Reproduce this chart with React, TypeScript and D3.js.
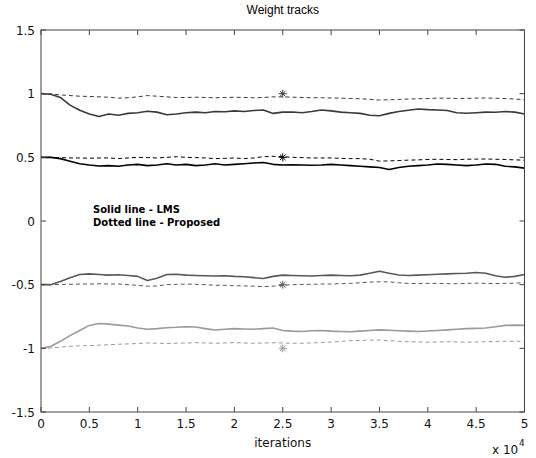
import React from "react";
import * as d3 from "d3";

const iterations = [0,0.1,0.2,0.3,0.4,0.5,0.6,0.7,0.8,0.9,1.0,1.1,1.2,1.3,1.4,1.5,1.6,1.7,1.8,1.9,2.0,2.1,2.2,2.3,2.4,2.5,2.6,2.7,2.8,2.9,3.0,3.1,3.2,3.3,3.4,3.5,3.6,3.7,3.8,3.9,4.0,4.1,4.2,4.3,4.4,4.5,4.6,4.7,4.8,4.9,5.0];

const lms1 = [1.0,0.995,0.97,0.91,0.87,0.84,0.82,0.84,0.83,0.845,0.85,0.862,0.855,0.835,0.84,0.85,0.855,0.85,0.86,0.858,0.865,0.86,0.868,0.872,0.845,0.855,0.856,0.85,0.86,0.872,0.865,0.855,0.85,0.845,0.83,0.827,0.845,0.86,0.87,0.88,0.875,0.872,0.868,0.85,0.846,0.85,0.855,0.854,0.86,0.855,0.84];
const prop1 = [1.0,0.998,0.99,0.985,0.98,0.978,0.975,0.972,0.965,0.968,0.975,0.985,0.98,0.975,0.97,0.97,0.972,0.97,0.968,0.97,0.972,0.97,0.968,0.97,0.975,0.975,0.972,0.97,0.968,0.968,0.966,0.965,0.962,0.96,0.955,0.95,0.952,0.955,0.958,0.96,0.962,0.965,0.964,0.962,0.963,0.965,0.966,0.964,0.962,0.958,0.952];
const lms2 = [0.5,0.5,0.49,0.47,0.45,0.44,0.432,0.435,0.43,0.44,0.445,0.435,0.44,0.45,0.44,0.445,0.435,0.44,0.45,0.44,0.445,0.45,0.455,0.46,0.445,0.44,0.442,0.44,0.438,0.44,0.445,0.44,0.435,0.43,0.425,0.42,0.405,0.42,0.43,0.435,0.44,0.448,0.445,0.44,0.435,0.44,0.448,0.445,0.43,0.425,0.415];
const prop2 = [0.5,0.5,0.498,0.495,0.495,0.493,0.495,0.495,0.49,0.495,0.5,0.498,0.495,0.5,0.505,0.5,0.498,0.495,0.49,0.492,0.495,0.49,0.495,0.505,0.508,0.505,0.5,0.498,0.495,0.495,0.495,0.492,0.49,0.49,0.485,0.47,0.472,0.475,0.478,0.48,0.483,0.485,0.483,0.482,0.485,0.486,0.487,0.485,0.483,0.48,0.478];
const lms3 = [-0.5,-0.5,-0.475,-0.445,-0.42,-0.415,-0.42,-0.425,-0.422,-0.428,-0.435,-0.468,-0.45,-0.42,-0.418,-0.425,-0.428,-0.43,-0.432,-0.43,-0.435,-0.438,-0.445,-0.452,-0.435,-0.425,-0.428,-0.43,-0.432,-0.428,-0.425,-0.428,-0.43,-0.425,-0.41,-0.395,-0.41,-0.424,-0.428,-0.425,-0.422,-0.418,-0.415,-0.412,-0.41,-0.405,-0.41,-0.43,-0.442,-0.435,-0.42];
const prop3 = [-0.5,-0.5,-0.498,-0.497,-0.495,-0.495,-0.493,-0.495,-0.495,-0.5,-0.505,-0.512,-0.51,-0.5,-0.498,-0.495,-0.497,-0.5,-0.505,-0.505,-0.508,-0.51,-0.512,-0.515,-0.512,-0.505,-0.5,-0.498,-0.497,-0.495,-0.495,-0.492,-0.49,-0.485,-0.48,-0.477,-0.478,-0.485,-0.49,-0.492,-0.49,-0.49,-0.492,-0.493,-0.49,-0.488,-0.49,-0.492,-0.49,-0.488,-0.485];
const lms4 = [-1.0,-0.985,-0.945,-0.9,-0.86,-0.82,-0.805,-0.81,-0.818,-0.825,-0.84,-0.85,-0.845,-0.838,-0.835,-0.83,-0.832,-0.845,-0.856,-0.85,-0.845,-0.848,-0.85,-0.845,-0.84,-0.86,-0.865,-0.868,-0.862,-0.86,-0.865,-0.868,-0.87,-0.865,-0.86,-0.855,-0.858,-0.862,-0.865,-0.868,-0.864,-0.86,-0.855,-0.85,-0.845,-0.843,-0.84,-0.83,-0.82,-0.818,-0.82];
const prop4 = [-1.0,-0.998,-0.99,-0.985,-0.98,-0.978,-0.975,-0.972,-0.968,-0.965,-0.962,-0.958,-0.96,-0.962,-0.96,-0.958,-0.955,-0.958,-0.96,-0.958,-0.955,-0.958,-0.96,-0.958,-0.956,-0.958,-0.96,-0.96,-0.958,-0.955,-0.95,-0.945,-0.94,-0.938,-0.936,-0.935,-0.94,-0.945,-0.948,-0.95,-0.952,-0.95,-0.948,-0.95,-0.952,-0.95,-0.948,-0.946,-0.945,-0.944,-0.945];

const trueWeights = [1, 0.5, -0.5, -1];
const markerIteration = 2.5;
const xTicks = [0,0.5,1,1.5,2,2.5,3,3.5,4,4.5,5];
const yTicks = [-1.5,-1,-0.5,0,0.5,1,1.5];
const xTickLabels = ["0","0.5","1","1.5","2","2.5","3","3.5","4","4.5","5"];
const yTickLabels = ["-1.5","-1","-0.5","0","0.5","1","1.5"];

const colors = ["#3a3a3a", "#000000", "#585858", "#9a9a9a"];

export default function App() {
  const W = 536, H = 458;
  const left = 41, right = 524.5, top = 30, bottom = 412;
  const x = d3.scaleLinear().domain([0, 5]).range([left, right]);
  const y = d3.scaleLinear().domain([-1.5, 1.5]).range([bottom, top]);
  const line = d3.line<number>().x((_, i) => x(iterations[i])).y((d) => y(d));
  const solids = [lms1, lms2, lms3, lms4];
  const dashed = [prop1, prop2, prop3, prop4];
  const titleFont = "'Liberation Sans', Arial, sans-serif";
  const font = "'DejaVu Sans', sans-serif";
  const axisColor = "#444";
  const tickLen = 5;

  const star = (cx: number, cy: number, c: string, k: number) => {
    const r = 4;
    const d = `M${cx - r},${cy}L${cx + r},${cy}M${cx},${cy - r}L${cx},${cy + r}M${cx - r * 0.7},${cy - r * 0.7}L${cx + r * 0.7},${cy + r * 0.7}M${cx - r * 0.7},${cy + r * 0.7}L${cx + r * 0.7},${cy - r * 0.7}`;
    return <path key={"s" + k} d={d} stroke={c} strokeWidth={1} fill="none" />;
  };

  return (
    <div style={{ position: "fixed", left: 0, top: 0 }}>
      <svg width={W} height={H} style={{ display: "block", background: "#fff" }}>
        <rect x={0} y={0} width={W} height={H} fill="#fff" />
        <text x={(left + right) / 2} y={14} textAnchor="middle" fontFamily={titleFont} fontSize={12} fill="#000">Weight tracks</text>
        {dashed.map((s, k) => (
          <path key={"d" + k} d={line(s) || ""} fill="none" stroke={colors[k]} strokeWidth={1} strokeDasharray="4,3" />
        ))}
        {solids.map((s, k) => (
          <path key={"l" + k} d={line(s) || ""} fill="none" stroke={colors[k]} strokeWidth={1.6} strokeLinejoin="round" />
        ))}
        {trueWeights.map((w, k) => star(x(markerIteration), y(w), colors[k], k))}
        <rect x={left} y={top} width={right - left} height={bottom - top} fill="none" stroke={axisColor} strokeWidth={1} />
        {xTicks.map((t, i) => (
          <g key={"xt" + i}>
            <line x1={x(t)} x2={x(t)} y1={bottom} y2={bottom - tickLen} stroke={axisColor} />
            <line x1={x(t)} x2={x(t)} y1={top} y2={top + tickLen} stroke={axisColor} />
            <text x={x(t)} y={428} textAnchor="middle" fontFamily={font} fontSize={12} fill="#111">{xTickLabels[i]}</text>
          </g>
        ))}
        {yTicks.map((t, i) => (
          <g key={"yt" + i}>
            <line x1={left} x2={left + tickLen} y1={y(t)} y2={y(t)} stroke={axisColor} />
            <line x1={right} x2={right - tickLen} y1={y(t)} y2={y(t)} stroke={axisColor} />
            <text x={35} y={y(t) + 4.5} textAnchor="end" fontFamily={font} fontSize={12} fill="#111">{yTickLabels[i]}</text>
          </g>
        ))}
        <text x={(left + right) / 2} y={447} textAnchor="middle" fontFamily={font} fontSize={12} fill="#111">iterations</text>
        <text x={492} y={454} fontFamily={font} fontSize={12} fill="#111">x 10</text>
        <text x={519} y={446} fontFamily={font} fontSize={9} fill="#111">4</text>
        <text x={93} y={213} fontFamily={font} fontSize={10} fontWeight="bold" fill="#000">Solid line - LMS</text>
        <text x={93} y={226} fontFamily={font} fontSize={10} fontWeight="bold" fill="#000">Dotted line - Proposed</text>
      </svg>
    </div>
  );
}
